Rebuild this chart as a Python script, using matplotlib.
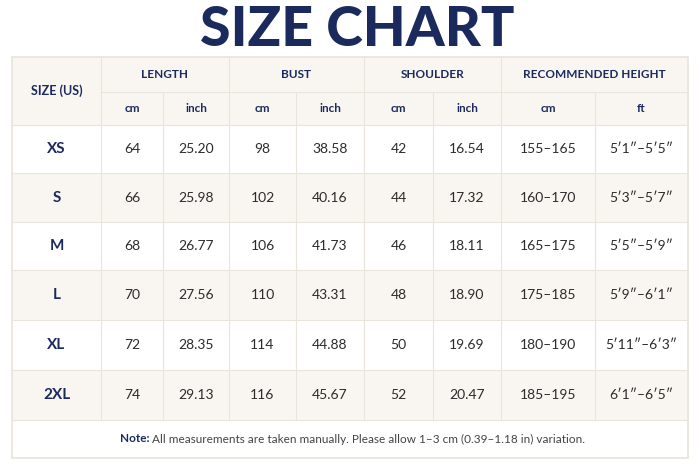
import matplotlib
matplotlib.use("Agg")
import matplotlib.pyplot as plt
from matplotlib.patches import Rectangle

sizes = ["XS", "S", "M", "L", "XL", "2XL"]
length_cm = ["64", "66", "68", "70", "72", "74"]
length_in = ["25.20", "25.98", "26.77", "27.56", "28.35", "29.13"]
bust_cm = ["98", "102", "106", "110", "114", "116"]
bust_in = ["38.58", "40.16", "41.73", "43.31", "44.88", "45.67"]
shoulder_cm = ["42", "44", "46", "48", "50", "52"]
shoulder_in = ["16.54", "17.32", "18.11", "18.90", "19.69", "20.47"]
height_cm = ["155–165", "160–170", "165–175", "175–185", "180–190", "185–195"]
height_ft = ["5′1″–5′5″", "5′3″–5′7″", "5′5″–5′9″", "5′9″–6′1″", "5′11″–6′3″", "6′1″–6′5″"]
groups = ["LENGTH", "BUST", "SHOULDER", "RECOMMENDED HEIGHT"]
units = ["cm", "inch", "cm", "inch", "cm", "inch", "cm", "ft"]

plt.rcParams['font.family'] = ['Lato', 'DejaVu Sans']
NAVY = "#1b2a5c"; BEIGE = "#f9f6f1"; LINE = "#e9e4dc"; TXT = "#2b2b2b"

fig = plt.figure(figsize=(7, 4.67), dpi=100)
ax = fig.add_axes([0, 0, 1, 1])
ax.set_xlim(0, 700); ax.set_ylim(467, 0); ax.axis("off")

xs = [12, 101, 163, 229, 296, 364, 433, 501, 595, 688]
ys = [57, 92, 125, 173, 222, 270, 320, 370, 420, 458]

ax.text(357, 30, "SIZE CHART", ha="center", va="center",
        fontsize=40, fontweight="black", color=NAVY)

ax.add_patch(Rectangle((xs[0], ys[0]), xs[-1]-xs[0], ys[2]-ys[0], fc=BEIGE, ec="none"))
for i in range(6):
    fc = BEIGE if i % 2 == 1 else "white"
    ax.add_patch(Rectangle((xs[0], ys[2+i]), xs[-1]-xs[0], ys[3+i]-ys[2+i], fc=fc, ec="none"))

lw = 0.8
ax.plot([xs[1], xs[-1]], [ys[1]]*2, color=LINE, lw=lw)
for y in ys[2:9]:
    ax.plot([xs[0], xs[-1]], [y]*2, color=LINE, lw=lw)
for j, x in enumerate(xs[1:-1], start=1):
    top = ys[0] if j in (1, 3, 5, 7) else ys[1]
    ax.plot([x, x], [top, ys[8]], color=LINE, lw=lw)
ax.add_patch(Rectangle((xs[0], ys[0]), xs[-1]-xs[0], ys[-1]-ys[0], fc="none", ec=LINE, lw=1.2))

ax.text((xs[0]+xs[1])/2, (ys[0]+ys[2])/2, "SIZE (US)", ha="center", va="center",
        fontsize=9, fontweight="bold", color=NAVY)
for g, name in enumerate(groups):
    x0, x1 = xs[1+2*g], xs[3+2*g]
    ax.text((x0+x1)/2, (ys[0]+ys[1])/2, name, ha="center", va="center",
            fontsize=8.5, fontweight="bold", color=NAVY)
for k, u in enumerate(units):
    ax.text((xs[1+k]+xs[2+k])/2, (ys[1]+ys[2])/2, u, ha="center", va="center",
            fontsize=8.5, fontweight="bold", color=NAVY)

cols = [length_cm, length_in, bust_cm, bust_in, shoulder_cm, shoulder_in, height_cm, height_ft]
for i, s in enumerate(sizes):
    yc = (ys[2+i]+ys[3+i])/2
    ax.text((xs[0]+xs[1])/2, yc, s, ha="center", va="center", fontsize=11,
            fontweight="bold", color=NAVY)
    for k, col in enumerate(cols):
        ax.text((xs[1+k]+xs[2+k])/2, yc, col[i], ha="center", va="center",
                fontsize=10, color=TXT)

yn = (ys[8]+ys[9])/2
ax.text(120, yn, "Note:", ha="left", va="center", fontsize=8.5,
        fontweight="bold", color=NAVY)
ax.text(152, yn,
        "All measurements are taken manually. Please allow 1–3 cm (0.39–1.18 in) variation.",
        ha="left", va="center", fontsize=8.5, color="#444444")

fig.savefig("out.png", dpi=100)
